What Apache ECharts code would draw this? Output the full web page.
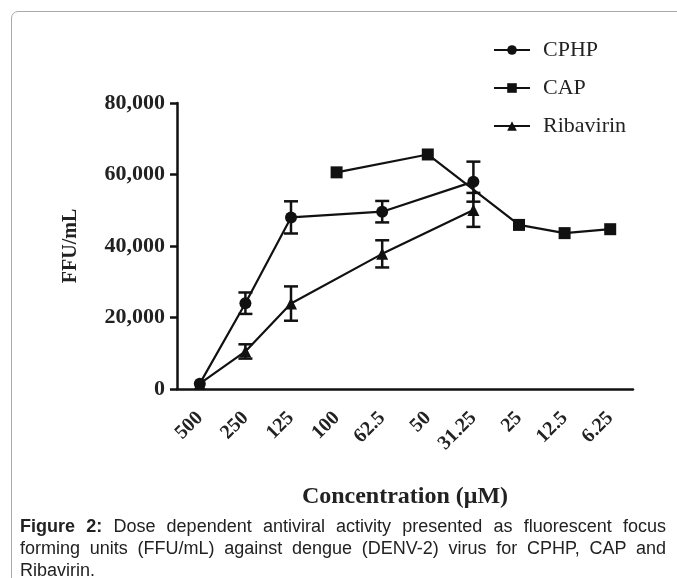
<!DOCTYPE html>
<html>
<head>
<meta charset="utf-8">
<script src="https://cdn.jsdelivr.net/npm/echarts@6/dist/echarts.min.js"></script>
<style>
  html, body { margin: 0; padding: 0; background: #fff; }
  #wrap { position: relative; width: 677px; height: 578px; overflow: hidden; }
  .frame {
    position: absolute; left: 11px; top: 11px; width: 700px; height: 600px;
    border: 1px solid #aaa; border-radius: 7px; box-sizing: border-box;
  }
  #chart { position: absolute; left: 0; top: 0; width: 677px; height: 578px; }
  .caption {
    position: absolute; left: 20px; top: 515px; width: 646px;
    font-family: "Liberation Sans", Arial, sans-serif; font-size: 18px;
    line-height: 22px; color: #222; text-align: justify;
  }
</style>
</head>
<body>
<div id="wrap">
  <div class="frame"></div>
  <div id="chart"></div>
  <div class="caption"><b>Figure 2:</b> Dose dependent antiviral activity presented as fluorescent focus forming units (FFU/mL) against dengue (DENV-2) virus for CPHP, CAP and Ribavirin.</div>
</div>
<script>
// concentrations (µM) on the x axis
const categories = ['500', '250', '125', '100', '62.5', '50', '31.25', '25', '12.5', '6.25'];
// FFU/mL means, null = not measured at that concentration
const cphp = [1500, 24000, 48000, null, 49600, null, 58000, null, null, null];
const cphpErr = [0, 3000, 4500, null, 3000, null, 5600, null, null, null];
const cap = [null, null, null, 60600, null, 65600, null, 45900, 43600, 44700];
const ribavirin = [1500, 10500, 23900, null, 37800, null, 50100, null, null, null];
const ribavirinErr = [0, 2000, 4800, null, 3800, null, 4750, null, null, null];
const yTicks = [0, 20000, 40000, 60000, 80000];

const serif = '"Liberation Serif", "Times New Roman", serif';

function errData(mean, err) {
  let out = [];
  mean.forEach((v, i) => {
    if (v == null || !err[i]) return;
    out.push([i, v - err[i], v + err[i]]);
  });
  return out;
}

function renderErr(params, api) {
  let x = api.value(0);
  let lo = api.coord([x, api.value(1)]);
  let hi = api.coord([x, api.value(2)]);
  let w = 7;
  let style = { stroke: '#111', lineWidth: 2.5 };
  return {
    type: 'group',
    children: [
      { type: 'line', shape: { x1: hi[0], y1: hi[1], x2: lo[0], y2: lo[1] }, style },
      { type: 'line', shape: { x1: hi[0] - w, y1: hi[1], x2: hi[0] + w, y2: hi[1] }, style },
      { type: 'line', shape: { x1: lo[0] - w, y1: lo[1], x2: lo[0] + w, y2: lo[1] }, style },
    ],
  };
}

let chart = echarts.init(document.getElementById('chart'), null, { renderer: 'canvas' });

let lineSeries = (name, data, symbol, size) => ({
  name: name,
  type: 'line',
  data: data,
  connectNulls: true,
  symbol: symbol,
  symbolSize: size,
  showSymbol: true,
  itemStyle: { color: '#111' },
  lineStyle: { color: '#111', width: 2.2 },
  z: 3,
});

let option = {
  animation: false,
  textStyle: { fontFamily: serif },
  grid: { left: 177, top: 103, width: 456, height: 286, containLabel: false, outerBoundsMode: 'none' },
  legend: {
    orient: 'vertical',
    left: 488,
    top: 34,
    itemWidth: 36,
    itemHeight: 12,
    itemGap: 16,
    data: ['CPHP', 'CAP', 'Ribavirin'],
    textStyle: { fontFamily: serif, fontSize: 22, color: '#222', lineHeight: 22, padding: [0, 0, 0, 8] },
  },
  xAxis: {
    type: 'category',
    data: categories,
    boundaryGap: true,
    name: 'Concentration (μM)',
    nameLocation: 'middle',
    nameGap: 96,
    nameTextStyle: { fontFamily: serif, fontSize: 24, fontWeight: 'bold', color: '#222' },
    axisLine: { lineStyle: { color: '#111', width: 2.5 } },
    axisTick: { alignWithLabel: true, length: 7, lineStyle: { color: '#111', width: 2.5 } },
    axisLabel: {
      rotate: 45,
      margin: 26,
      interval: 0,
      fontFamily: serif,
      fontSize: 20,
      fontWeight: 'bold',
      color: '#222',
    },
    splitLine: { show: false },
  },
  yAxis: {
    type: 'value',
    min: yTicks[0],
    max: yTicks[yTicks.length - 1],
    interval: 20000,
    name: 'FFU/mL',
    nameLocation: 'middle',
    nameGap: 96,
    nameTextStyle: { fontFamily: serif, fontSize: 20, fontWeight: 'bold', color: '#222' },
    axisLine: { show: true, lineStyle: { color: '#111', width: 2.5 } },
    axisTick: { show: true, length: 7, lineStyle: { color: '#111', width: 2.5 } },
    axisLabel: {
      margin: 12,
      fontFamily: serif,
      fontSize: 22,
      fontWeight: 'bold',
      color: '#222',
      formatter: (v) => v.toLocaleString('en-US'),
    },
    splitLine: { show: false },
  },
  series: [
    lineSeries('CPHP', cphp, 'circle', 12),
    lineSeries('CAP', cap, 'rect', 12),
    lineSeries('Ribavirin', ribavirin, 'triangle', 12),
    { type: 'custom', renderItem: renderErr, data: errData(cphp, cphpErr), z: 4, silent: true },
    { type: 'custom', renderItem: renderErr, data: errData(ribavirin, ribavirinErr), z: 4, silent: true },
  ],
};

chart.setOption(option);
</script>
</body>
</html>
